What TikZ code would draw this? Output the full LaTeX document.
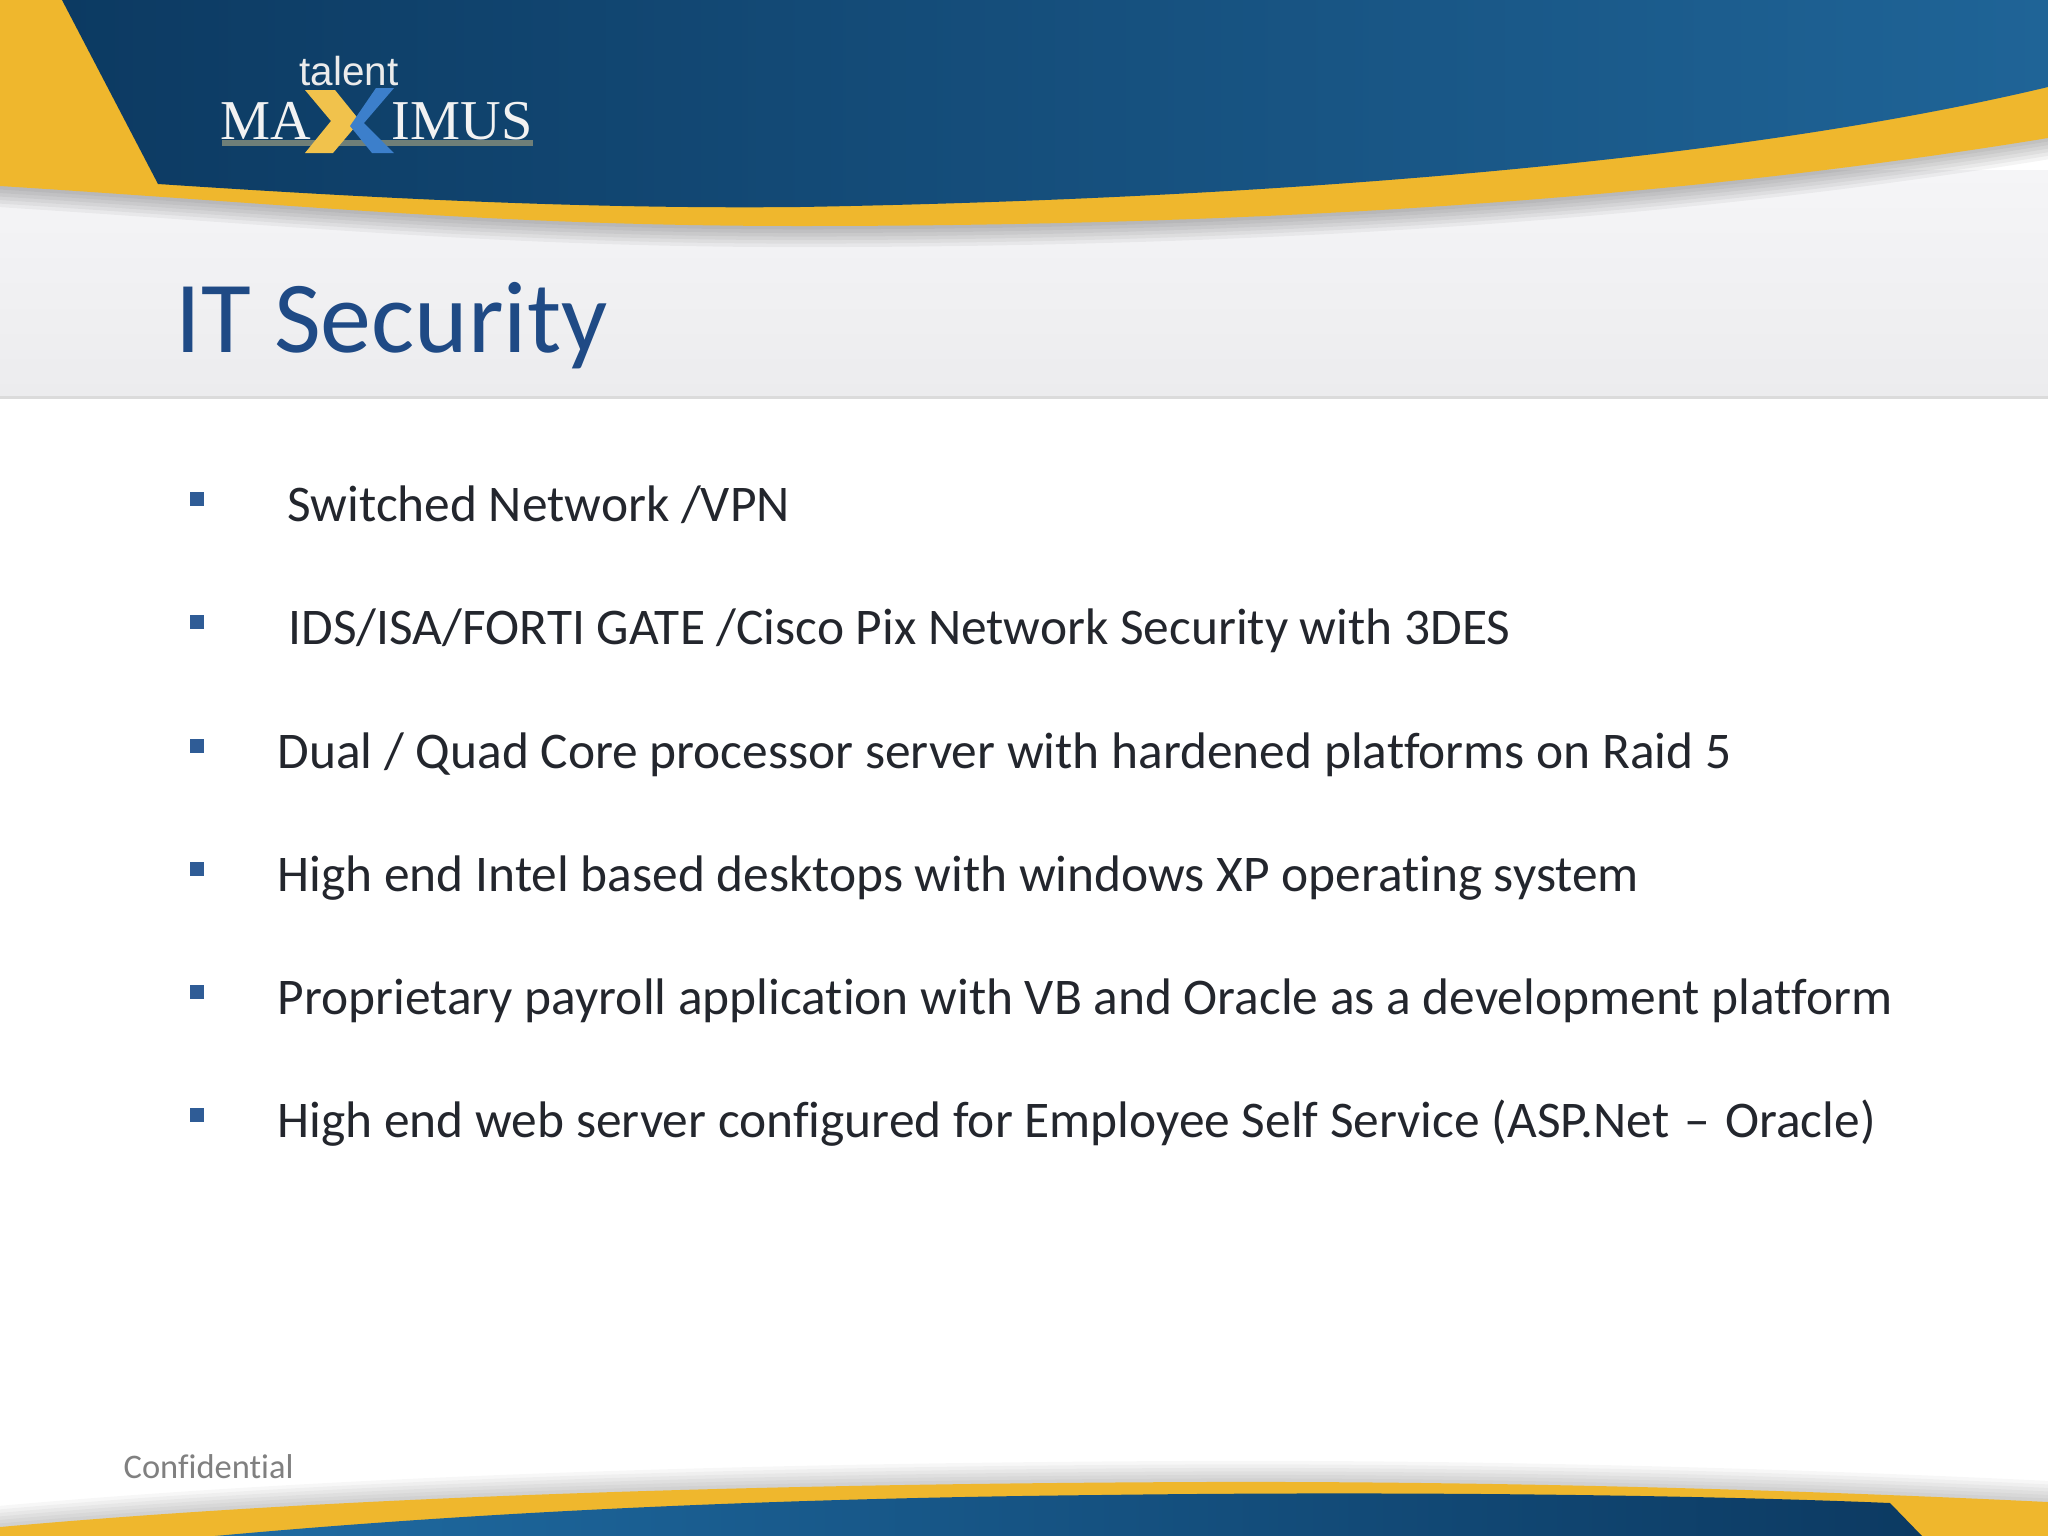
\documentclass[tikz,border=0pt]{standalone}
\usepackage{fontspec}
\setmainfont[Ligatures=CommonOff]{Carlito}
\newfontfamily\logoserif{Liberation Serif}
\newfontfamily\logosans{Liberation Sans}
\definecolor{bandyellow}{HTML}{EFB72D}
\definecolor{bluedark}{HTML}{0C3A62}
\definecolor{bluemid}{HTML}{175589}
\definecolor{bluelight}{HTML}{1F6497}
\definecolor{footblue}{HTML}{1F6BA2}
\definecolor{logoblue}{HTML}{3C7FCB}
\definecolor{logobar}{HTML}{6F7F78}
\definecolor{titleblue}{HTML}{1F4A85}
\definecolor{bulletblue}{HTML}{2F5C96}
\definecolor{bodyink}{HTML}{23262D}
\definecolor{footgray}{HTML}{808080}
\definecolor{paneltop}{HTML}{F5F5F7}
\definecolor{panelgray}{HTML}{ECECEE}
\begin{document}
\begin{tikzpicture}[x=0.01cm,y=-0.01cm]
      \tikzstyle{every node}+=[inner sep=0pt]
      \tikzstyle{bodytext}=[anchor=base west,text=bodyink,font=\fontsize{14.62}{18}\selectfont]
      \tikzstyle{bulletmark}=[fill=bulletblue,minimum size=4pt]
      \useasboundingbox (0,0) rectangle (2048,1536);
      \fill [white] (0,0) rectangle (2048,1536);
      \shade [top color=paneltop,bottom color=panelgray] (0,170) rectangle (2048,396);
      \fill [black!14] (0,396) rectangle (2048,399);
      \foreach \w in {2,4,...,12} {
        \draw [black,opacity=0.045,line width=\w*1pt] (0,186) .. controls (300,205) and (500,226) .. (800,226) .. controls (1300,226) and (1700,195) .. (2048,138);
        \draw [black,opacity=0.03,line width=\w*1pt] (0,1527) .. controls (300,1500) and (700,1484) .. (1200,1482) .. controls (1500,1481) and (1800,1490) .. (2048,1502);
      }
      \fill [bandyellow] (0,0) -- (70,0) -- (170,180) -- (2048,80) -- (2048,138) .. controls (1700,195) and (1300,226) .. (800,226) .. controls (500,226) and (300,205) .. (0,186) -- cycle;
      \shade [left color=bluedark,middle color=bluemid,right color=bluelight] (62,0) -- (158,184) .. controls (400,200) and (600,209) .. (800,207) .. controls (1200,200) and (1700,170) .. (2048,87) -- (2048,0) -- cycle;
      \fill [bandyellow] (0,1527) .. controls (300,1500) and (700,1484) .. (1200,1482) .. controls (1500,1481) and (1800,1490) .. (2048,1502) -- (2048,1536) -- (0,1536) -- cycle;
      \shade [left color=footblue,middle color=bluemid,right color=bluedark] (215,1536) .. controls (500,1510) and (800,1498) .. (1100,1495) .. controls (1400,1491) and (1700,1495) .. (1890,1503) -- (1922,1536) -- cycle;
      \fill [logobar] (222,140) rectangle (533,146);
      \node (talentlabel) [anchor=base,text=white!92!black,font=\logosans\fontsize{11.5}{13}\selectfont] at (349,85) {talent};
      \node (malabel) [anchor=base east,text=white!95!black,font=\logoserif\fontsize{16}{18}\selectfont] at (312,139) {MA};
      \node (imuslabel) [anchor=base west,text=white!95!black,font=\logoserif\fontsize{16}{18}\selectfont] at (391,139) {IMUS};
      \fill [bandyellow!85!white] (305,90) -- (335,90) -- (360,121) -- (333,153) -- (305,153) -- (331,121) -- cycle;
      \fill [logoblue] (376,88) -- (394,88) -- (364,123) -- (394,153) -- (372,153) -- (350,126) -- cycle;
      \node (titlelabel) [anchor=base west,text=titleblue,font=\fontsize{29}{34}\selectfont] at (175,352) {IT Security};
      \foreach \n/\y/\tx/\body in {
        a/521/287/{Switched Network /VPN},
        b/644/288/{IDS/ISA/FORTI GATE /Cisco Pix Network Security with 3DES},
        c/768/277/{Dual / Quad Core processor server with hardened platforms on Raid 5},
        d/891/277/{High end Intel based desktops with windows XP operating system},
        e/1014/277/{Proprietary payroll application with VB and Oracle as a development platform},
        f/1137/277/{High end web server configured for Employee Self Service (ASP.Net\hspace{1pt} -- \hspace{1pt}Oracle)}} {
        \node (mark\n) [bulletmark] at (197,\y-22) {};
        \node (line\n) [bodytext] at (\tx,\y) {\body};
      }
      \node (footlabel) [anchor=base west,text=footgray,font=\fontsize{9.8}{12}\selectfont] at (123,1478) {Confidential};
    \end{tikzpicture}
\end{document}
